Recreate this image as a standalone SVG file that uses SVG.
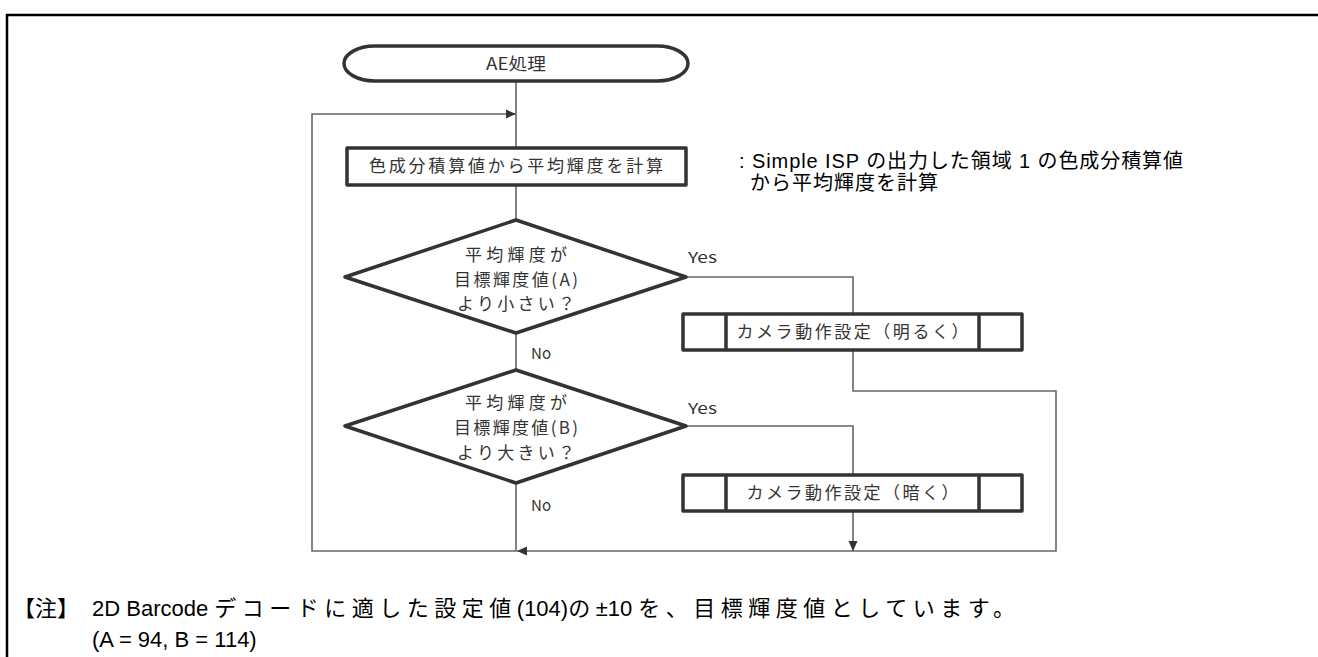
<svg xmlns="http://www.w3.org/2000/svg" width="1318" height="657" viewBox="0 0 1318 657">
<defs>
<style>
.frame{fill:none;stroke:#000;stroke-width:2.5}
.shape{fill:#fff;stroke:#333;stroke-width:3.5;stroke-linejoin:round}
.sub{fill:none;stroke:#333;stroke-width:3.5}
.conn{fill:none;stroke:#666;stroke-width:1.6}
.ft{font-family:"Noto Sans CJK JP","Noto Sans",sans-serif;font-size:17px;fill:#333}
.lbl{font-family:"Noto Sans CJK JP","Noto Sans",sans-serif;font-size:15px;fill:#333}
.note{font-family:"Liberation Sans","Noto Sans CJK JP",sans-serif;fill:#000}
.cj{letter-spacing:5.5px}
</style>
<marker id="ah" viewBox="0 0 10 10" refX="10" refY="5" markerWidth="10" markerHeight="10" markerUnits="userSpaceOnUse" orient="auto">
<path d="M0,0.5 L10,5 L0,9.5 Z" fill="#333"/>
</marker>
</defs>
<rect x="0" y="0" width="1318" height="657" fill="#fff"/>
<path class="frame" d="M7,657 V15 H1318"/>

<g id="connectors">
<path class="conn" d="M516,81 V148"/>
<path class="conn" d="M516,185 V220"/>
<path class="conn" d="M516,333 V370"/>
<path class="conn" d="M516,483 V551 H312 V114 H516" marker-end="url(#ah)"/>
<path class="conn" d="M686,277 H853 V314"/>
<path class="conn" d="M686,426 H853 V475"/>
<path class="conn" d="M853,350 V391 H1056 V551 H517" marker-end="url(#ah)"/>
<path class="conn" d="M853,511 V551" marker-end="url(#ah)"/>
</g>

<g id="start">
<path class="shape" d="M375,46 H657 A31,17.5 0 0 1 657,81 H375 A31,17.5 0 0 1 375,46 Z"/>
<text class="ft" x="516" y="70" text-anchor="middle" textLength="60" lengthAdjust="spacingAndGlyphs">AE処理</text>
</g>

<g id="calc">
<rect class="shape" x="347" y="148" width="339" height="37"/>
<text class="ft" x="516" y="172" text-anchor="middle" textLength="294" lengthAdjust="spacing">色成分積算値から平均輝度を計算</text>
</g>

<g id="note-calc">
<text class="note" font-size="20" x="739" y="168" textLength="444" lengthAdjust="spacing">: Simple ISP の出力した領域 1 の色成分積算値</text>
<text class="note" font-size="20" x="750" y="190" textLength="188" lengthAdjust="spacing">から平均輝度を計算</text>
</g>

<g id="dec1">
<path class="shape" d="M516,220 L345,277 L516,333 L686,277 Z"/>
<text class="ft" x="516" y="261" text-anchor="middle" textLength="102" lengthAdjust="spacing">平均輝度が</text>
<text class="ft" x="516" y="286" text-anchor="middle" textLength="124" lengthAdjust="spacing">目標輝度値(A)</text>
<text class="ft" x="516" y="310" text-anchor="middle" textLength="118" lengthAdjust="spacing">より小さい？</text>
</g>

<g id="dec2">
<path class="shape" d="M516,370 L345,426 L516,483 L686,426 Z"/>
<text class="ft" x="516" y="409" text-anchor="middle" textLength="102" lengthAdjust="spacing">平均輝度が</text>
<text class="ft" x="516" y="434" text-anchor="middle" textLength="124" lengthAdjust="spacing">目標輝度値(B)</text>
<text class="ft" x="516" y="459" text-anchor="middle" textLength="118" lengthAdjust="spacing">より大きい？</text>
</g>

<g id="labels">
<text class="lbl" x="688" y="263" textLength="29" lengthAdjust="spacingAndGlyphs">Yes</text>
<text class="lbl" x="688" y="414" textLength="29" lengthAdjust="spacingAndGlyphs">Yes</text>
<text class="lbl" x="531" y="359" textLength="20" lengthAdjust="spacingAndGlyphs">No</text>
<text class="lbl" x="531" y="511" textLength="20" lengthAdjust="spacingAndGlyphs">No</text>
</g>

<g id="bright">
<rect class="shape" x="683" y="314" width="339" height="36"/>
<path class="sub" d="M726,314 V350 M979,314 V350"/>
<text class="ft" x="852.5" y="338" text-anchor="middle" textLength="232" lengthAdjust="spacing">カメラ動作設定（明るく）</text>
</g>

<g id="dark">
<rect class="shape" x="683" y="475" width="339" height="36"/>
<path class="sub" d="M726,475 V511 M979,475 V511"/>
<text class="ft" x="852.5" y="499" text-anchor="middle" textLength="212" lengthAdjust="spacing">カメラ動作設定（暗く）</text>
</g>

<g id="footnote">
<text class="note" font-size="22" x="13" y="616">【注】</text>
<text class="note" font-size="22" x="92" y="616">2D Barcode <tspan class="cj">デコードに適した設定値</tspan>(104)<tspan class="cj">の</tspan>±10 <tspan class="cj">を、目標輝度値としています。</tspan></text>
<text class="note" font-size="22" x="92" y="647">(A = 94, B = 114)</text>
</g>
</svg>
